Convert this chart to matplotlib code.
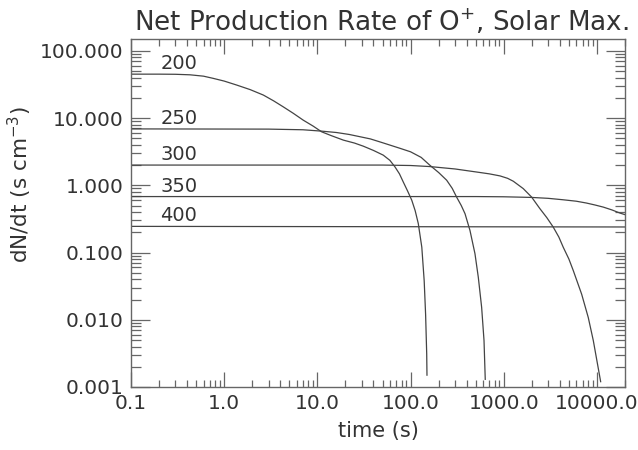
import numpy as np
import matplotlib
matplotlib.use("Agg")
import matplotlib.pyplot as plt
from matplotlib.ticker import LogLocator, NullFormatter

# ---- values ----
labels = ["200", "250", "300", "350", "400"]

t_200 = [0.1, 0.2, 0.3, 0.43, 0.6, 0.76, 1.0, 1.36, 1.9, 2.63, 3.4, 4.3, 5.5,
         7.06, 9.0, 11.1, 14.0, 19.0, 25.0, 31.1, 40.0, 50.9, 60.0, 68.0, 76.0,
         83.5, 93.0, 103.0, 112.0, 121.0, 132.0, 140.0, 145.0, 149.0, 150.0]
v_200 = [45.0, 45.0, 44.8, 44.0, 42.0, 39.0, 35.5, 31.0, 26.5, 22.0, 18.0, 14.7, 11.8,
         9.3, 7.6, 6.25, 5.5, 4.7, 4.25, 3.82, 3.3, 2.81, 2.35, 1.88, 1.48,
         1.12, 0.82, 0.60, 0.42, 0.27, 0.12, 0.038, 0.012, 0.0031, 0.0015]

t_250 = [0.1, 3.0, 7.0, 11.0, 16.0, 22.0, 37.0, 50.0, 77.0, 100.0, 130.0, 161.0,
         200.0, 244.0, 280.0, 312.0, 350.0, 384.0, 434.0, 491.0, 533.0, 579.0,
         614.0, 633.0]
v_250 = [6.9, 6.85, 6.7, 6.4, 6.1, 5.7, 4.9, 4.3, 3.55, 3.15, 2.6, 1.99,
         1.55, 1.19, 0.9, 0.668, 0.5, 0.378, 0.213, 0.096, 0.043, 0.0153,
         0.0049, 0.0013]

t_300 = [0.1, 50.0, 100.0, 161.0, 300.0, 556.0, 700.0, 911.0, 1100.0, 1265.0,
         1619.0, 1991.0, 2200.0, 2444.0, 2900.0, 3396.0, 3900.0, 4347.0, 5000.0,
         5570.0, 6854.0, 8070.0, 9140.0, 10330.0, 10960.0]
v_300 = [2.0, 2.0, 1.97, 1.9, 1.75, 1.55, 1.48, 1.38, 1.27, 1.15,
         0.893, 0.668, 0.55, 0.449, 0.33, 0.239, 0.17, 0.120, 0.08,
         0.054, 0.024, 0.0108, 0.0049, 0.0019, 0.0012]

t_350 = [0.1, 500.0, 1000.0, 2000.0, 3000.0, 4300.0, 6000.0, 7700.0, 9500.0,
         11700.0, 14500.0, 17700.0, 20000.0]
v_350 = [0.68, 0.68, 0.675, 0.66, 0.64, 0.61, 0.58, 0.545, 0.51,
         0.474, 0.43, 0.386, 0.366]

t_400 = [0.1, 20000.0]
v_400 = [0.245, 0.24]

xtick_vals = [0.1, 1.0, 10.0, 100.0, 1000.0, 10000.0]
xtick_labels = ["0.1", "1.0", "10.0", "100.0", "1000.0", "10000.0"]
ytick_vals = [0.001, 0.01, 0.1, 1.0, 10.0, 100.0]
ytick_labels = ["0.001", "0.010", "0.100", "1.000", "10.000", "100.000"]

curves = [(t_200, v_200), (t_250, v_250), (t_300, v_300), (t_350, v_350), (t_400, v_400)]

# ---- figure ----
plt.rcParams["font.family"] = ["DejaVu Sans"]
plt.rcParams["mathtext.fontset"] = "dejavusans"

fig = plt.figure(figsize=(6.38, 4.5), dpi=100)
ax = fig.add_axes([131 / 638, 1 - 387 / 450, (625 - 131) / 638, (387 - 39) / 450])

line_col = "#444444"
text_col = "#333333"
axis_col = "#666666"

for (t, v), lab in zip(curves, labels):
    ax.plot(t, v, color=line_col, linewidth=0.9)
    ax.annotate(lab, xy=(0.059, v[0]), xycoords=("axes fraction", "data"),
                xytext=(0, 7.6), textcoords="offset points",
                ha="left", va="center", fontsize=14, color=text_col)

ax.set_xscale("log")
ax.set_yscale("log")
ax.set_xlim(0.1, 20000)
ax.set_ylim(0.001, 150)

ax.set_xticks(xtick_vals, xtick_labels)
ax.set_yticks(ytick_vals, ytick_labels)
ax.xaxis.set_minor_locator(LogLocator(base=10, subs=np.arange(2, 10)))
ax.yaxis.set_minor_locator(LogLocator(base=10, subs=np.arange(2, 10)))
ax.xaxis.set_minor_formatter(NullFormatter())
ax.yaxis.set_minor_formatter(NullFormatter())

ax.tick_params(axis="both", which="both", direction="in", top=True, right=True,
               color=axis_col, labelcolor=text_col, labelsize=14.5, width=0.9)
ax.tick_params(axis="x", which="major", length=10.8, pad=5)
ax.tick_params(axis="x", which="minor", length=5)
ax.tick_params(axis="y", which="major", length=13.7, pad=5.5)
ax.tick_params(axis="y", which="minor", length=7.2)

for sp in ax.spines.values():
    sp.set_color(axis_col)
    sp.set_linewidth(1.0)

ax.set_xlabel("time (s)", fontsize=15, color=text_col, labelpad=6)
ax.set_ylabel(r"dN/dt (s cm$^{-3}$)", fontsize=15.5, color=text_col)
ax.yaxis.set_label_coords(-0.196, 0.58)
ax.set_title(r"Net Production Rate of O$^{+}$, Solar Max.", fontsize=18.8,
             color=text_col, x=0.506, pad=6)

fig.savefig("out.png", dpi=100)
